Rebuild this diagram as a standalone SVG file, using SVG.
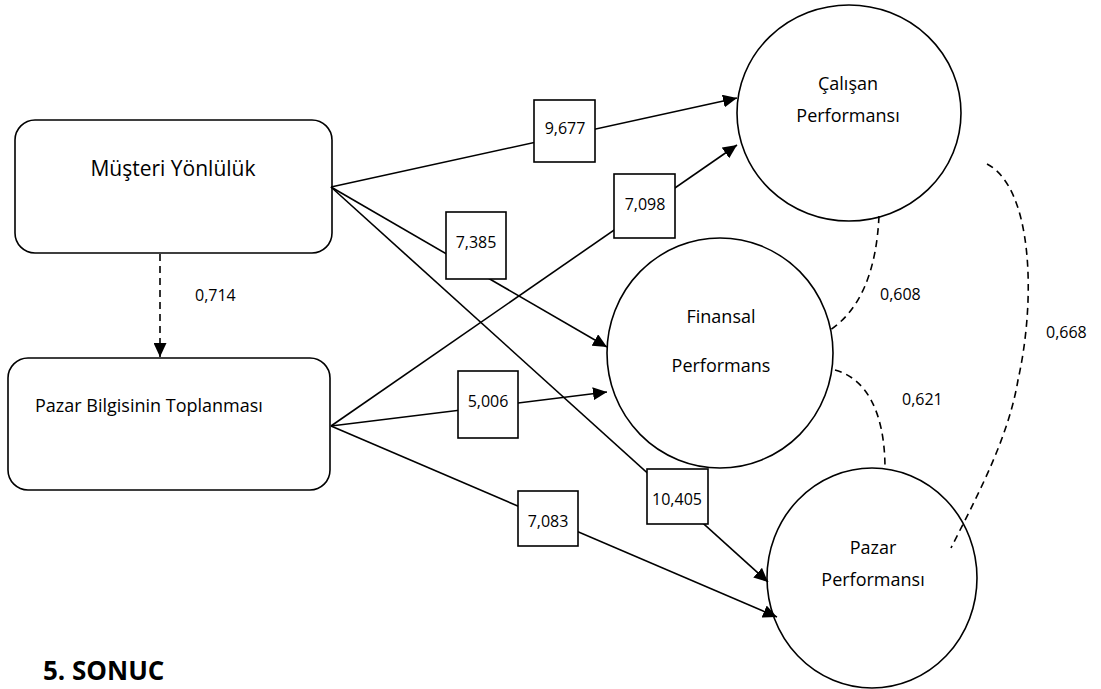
<svg xmlns="http://www.w3.org/2000/svg" width="1101" height="689" viewBox="0 0 1101 689">
<style>
.shape{fill:#fff;stroke:#000;stroke-width:1.6}
.ln{fill:none;stroke:#000;stroke-width:1.6}
.dash{fill:none;stroke:#000;stroke-width:1.6;stroke-dasharray:7 5}
text{font-family:"Open Sans","Liberation Sans",sans-serif;fill:#000}
.num{font-size:16px;text-anchor:middle}
.circ{font-size:18px;text-anchor:middle}
</style>
<defs>
<marker id="ah" markerUnits="userSpaceOnUse" markerWidth="15" markerHeight="13" refX="14" refY="6.5" orient="auto">
<path d="M0,0 L14,6.5 L0,13 z" fill="#000"/>
</marker>
</defs>
<rect width="1101" height="689" fill="#fff"/>
<g id="musteri">
<rect class="shape" x="15" y="120" width="317" height="133" rx="20"/>
<text x="173" y="176" font-size="21" text-anchor="middle">Müşteri Yönlülük</text>
</g>
<g id="pazarbilgi">
<rect class="shape" x="8" y="358" width="322" height="132" rx="20"/>
<text x="35" y="412" font-size="18">Pazar Bilgisinin Toplanması</text>
</g>
<g id="calisan">
<ellipse class="shape" cx="849" cy="113" rx="112" ry="108"/>
<text class="circ" x="848" y="90">Çalışan</text>
<text class="circ" x="848" y="122">Performansı</text>
</g>
<g id="finansal">
<ellipse class="shape" cx="720" cy="353" rx="113" ry="115"/>
<text class="circ" x="721" y="323">Finansal</text>
<text class="circ" x="721" y="372">Performans</text>
</g>
<g id="pazarperf">
<ellipse class="shape" cx="872" cy="578" rx="105" ry="110"/>
<text class="circ" x="873" y="554">Pazar</text>
<text class="circ" x="873" y="586">Performansı</text>
</g>
<g id="connectors">
<line class="ln" x1="331" y1="187" x2="737" y2="98" marker-end="url(#ah)"/>
<line class="ln" x1="331" y1="426" x2="737" y2="145" marker-end="url(#ah)"/>
<line class="ln" x1="331" y1="187" x2="607" y2="347" marker-end="url(#ah)"/>
<line class="ln" x1="331" y1="426" x2="607" y2="392" marker-end="url(#ah)"/>
<line class="ln" x1="331" y1="187" x2="768" y2="582" marker-end="url(#ah)"/>
<line class="ln" x1="331" y1="426" x2="777" y2="617" marker-end="url(#ah)"/>
<line class="dash" x1="160" y1="254" x2="160" y2="357" marker-end="url(#ah)"/>
<path class="dash" d="M879,216 Q875,300 830,330"/>
<path class="dash" d="M835,370 C865,378 885,410 885,469"/>
<path class="dash" d="M987,164 C1033,188 1036,300 1018,380 C1008,440 975,500 951,548"/>
</g>
<g id="lbl-9677"><rect class="shape" x="534" y="100" width="61" height="62"/><text class="num" x="565" y="134">9,677</text></g>
<g id="lbl-7098"><rect class="shape" x="614" y="174" width="61" height="64"/><text class="num" x="645" y="210">7,098</text></g>
<g id="lbl-7385"><rect class="shape" x="446" y="212" width="60" height="67"/><text class="num" x="476" y="248">7,385</text></g>
<g id="lbl-5006"><rect class="shape" x="458" y="371" width="60" height="67"/><text class="num" x="488" y="407">5,006</text></g>
<g id="lbl-7083"><rect class="shape" x="518" y="491" width="60" height="55"/><text class="num" x="548" y="527">7,083</text></g>
<g id="lbl-10405"><rect class="shape" x="647" y="469" width="61" height="55"/><text class="num" x="677" y="505">10,405</text></g>
<g id="corr-labels">
<text font-size="16" x="195" y="301">0,714</text>
<text font-size="16" x="880" y="300">0,608</text>
<text font-size="16" x="902" y="405">0,621</text>
<text font-size="16" x="1046" y="338">0,668</text>
</g>
<text x="43" y="680" font-size="26" font-weight="bold">5. SONUC</text>
</svg>
